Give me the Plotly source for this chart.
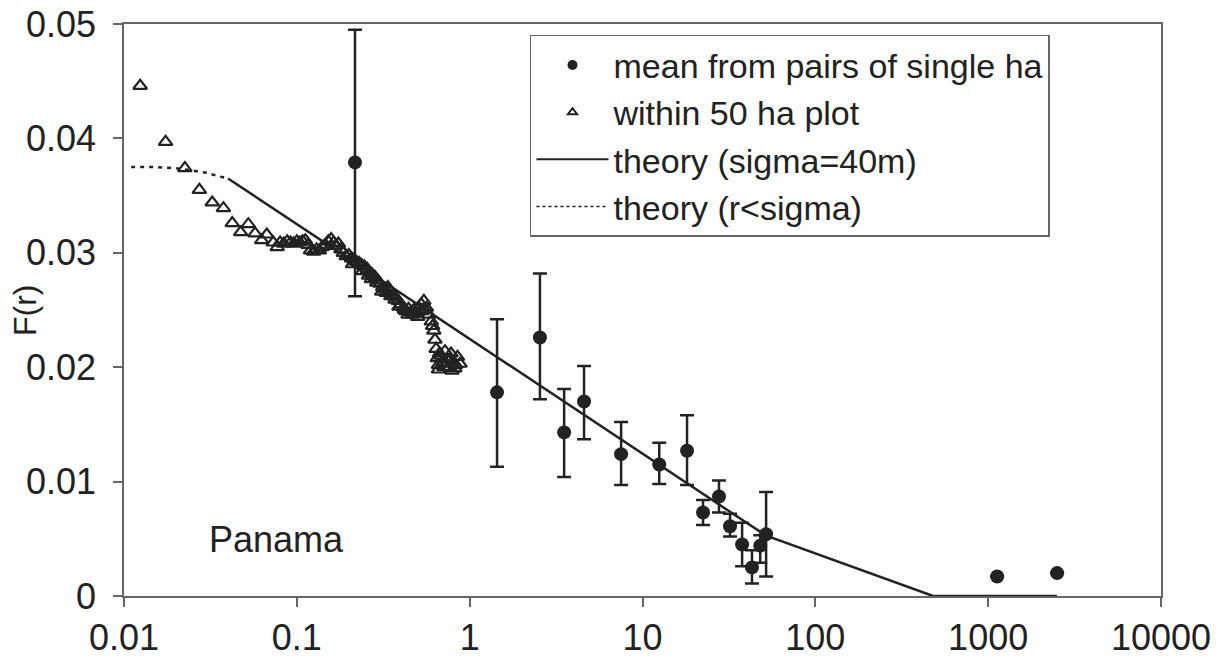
import math
import plotly.graph_objects as go

# mean from pairs of single ha (x in km, F(r)), with error bar bounds
mean_x = [0.217, 1.44, 2.55, 3.52, 4.59, 7.52, 12.5, 18.1, 22.4, 27.7, 32.1, 37.7, 43.0, 48.0, 51.9, 1127, 2506]
mean_y = [0.0379, 0.0178, 0.0226, 0.0143, 0.0170, 0.0124, 0.0115, 0.0127, 0.0073, 0.0087, 0.0061, 0.0045, 0.0025, 0.0044, 0.0054, 0.0017, 0.0020]
err_top = [0.0495, 0.0242, 0.0282, 0.0181, 0.0201, 0.0152, 0.0134, 0.0158, 0.0084, 0.0101, 0.0072, 0.0064, 0.0040, 0.0053, 0.0091, 0.0017, 0.0020]
err_bot = [0.0262, 0.0113, 0.0172, 0.0104, 0.0137, 0.0097, 0.0098, 0.0097, 0.0062, 0.0073, 0.0052, 0.0026, 0.0011, 0.0029, 0.0017, 0.0017, 0.0020]

# within 50 ha plot
tri_x = [0.0124, 0.0174, 0.0225, 0.0273, 0.0324, 0.0376, 0.0423, 0.0473, 0.0524, 0.0573,
         0.0626, 0.067, 0.0731, 0.077, 0.080, 0.084, 0.088, 0.092, 0.096, 0.100,
         0.104, 0.108, 0.112, 0.116, 0.120, 0.125, 0.130, 0.135, 0.140, 0.146,
         0.152, 0.158, 0.163, 0.168, 0.174, 0.180, 0.186, 0.193, 0.200, 0.207,
         0.214, 0.222, 0.230, 0.238, 0.246, 0.255, 0.264, 0.273, 0.283, 0.293,
         0.303, 0.314, 0.325, 0.336, 0.348, 0.360, 0.373, 0.386, 0.400, 0.414,
         0.428, 0.443, 0.458, 0.474, 0.490, 0.507, 0.525, 0.543, 0.562, 0.58,
         0.60, 0.62, 0.63, 0.64, 0.65, 0.66, 0.68, 0.70, 0.72, 0.74,
         0.76, 0.78, 0.80, 0.82, 0.85, 0.88,
         0.21, 0.24, 0.27, 0.31, 0.35, 0.39, 0.44, 0.50, 0.55, 0.66, 0.71, 0.77, 0.83,
         0.26, 0.29, 0.33, 0.37, 0.42, 0.47, 0.53, 0.61, 0.67, 0.73, 0.79]
tri_y = [0.0446, 0.0397, 0.0374, 0.0355, 0.0344, 0.0339, 0.0326, 0.0318, 0.0325, 0.0317,
         0.0311, 0.0316, 0.0309, 0.0305, 0.0309, 0.0308, 0.0310, 0.0309, 0.0308, 0.0310,
         0.0309, 0.0310, 0.0311, 0.0307, 0.0302, 0.0301, 0.0303, 0.0302, 0.0305, 0.0307,
         0.0310, 0.0312, 0.0309, 0.0306, 0.0308, 0.0303, 0.0300, 0.0297, 0.0298, 0.0295,
         0.0294, 0.0292, 0.0291, 0.0289, 0.0288, 0.0286, 0.0283, 0.0281, 0.0279, 0.0276,
         0.0273, 0.0270, 0.0268, 0.0270, 0.0266, 0.0263, 0.0261, 0.0258, 0.0255, 0.0252,
         0.0249, 0.0251, 0.0248, 0.0250, 0.0247, 0.0252, 0.0255, 0.0258, 0.0252, 0.0246,
         0.0240, 0.0232, 0.0224, 0.0216, 0.0208, 0.0202, 0.0210, 0.0204, 0.0214, 0.0207,
         0.0200, 0.0212, 0.0205, 0.0199, 0.0209, 0.0203,
         0.0290, 0.0284, 0.0277, 0.0266, 0.0262, 0.0253, 0.0246, 0.0244, 0.0250, 0.0198, 0.0200, 0.0207, 0.0202,
         0.0280, 0.0274, 0.0265, 0.0259, 0.0250, 0.0246, 0.0249, 0.0236, 0.0212, 0.0203, 0.0197]

# theory (sigma = 40 m)
theory_x = [0.04, 51.5, 480, 2500]
theory_y = [0.0365, 0.0053, 0.0, 0.0]

# theory (r < sigma)
small_x = [0.011, 0.015, 0.02, 0.025, 0.03, 0.035, 0.04]
small_y = [0.0375, 0.0375, 0.0374, 0.0372, 0.0370, 0.0367, 0.0365]

x_ticks = [0.01, 0.1, 1, 10, 100, 1000, 10000]
x_tick_text = ["0.01", "0.1", "1", "10", "100", "1000", "10000"]

FONT = "Liberation Sans, Arial, sans-serif"
INK = "#222222"
AX = "#666666"
FS = 36

W, H = 1220, 665
ML, MR, MT, MB = 124, 59, 24, 69

fig = go.Figure()

fig.add_trace(go.Scatter(
    x=theory_x, y=theory_y, mode="lines", showlegend=False,
    line=dict(color=INK, width=2.5)))
fig.add_trace(go.Scatter(
    x=small_x, y=small_y, mode="lines", showlegend=False,
    line=dict(color=INK, width=2.5, dash="4px,5px")))

fig.add_trace(go.Scatter(
    x=tri_x, y=tri_y, mode="markers", showlegend=False,
    marker=dict(symbol="triangle-up-open", size=12, color=INK, line=dict(width=2.2, color=INK))))

fig.add_trace(go.Scatter(
    x=mean_x, y=mean_y, mode="markers", showlegend=False,
    marker=dict(symbol="circle", size=14, color=INK),
    error_y=dict(type="data", symmetric=False,
                 array=[t - y for t, y in zip(err_top, mean_y)],
                 arrayminus=[y - b for b, y in zip(err_bot, mean_y)],
                 color=INK, thickness=2.5, width=7)))

# legend-only entries
fig.add_trace(go.Scatter(x=[None], y=[None], mode="markers", name="mean from pairs of single ha",
                         marker=dict(symbol="circle", size=10, color=INK)))
fig.add_trace(go.Scatter(x=[None], y=[None], mode="markers", name="within 50 ha plot",
                         marker=dict(symbol="triangle-up-open", size=8, color=INK, line=dict(width=2, color=INK))))
fig.add_trace(go.Scatter(x=[None], y=[None], mode="lines", name="theory (sigma=40m)",
                         line=dict(color=INK, width=2)))
fig.add_trace(go.Scatter(x=[None], y=[None], mode="lines", name="theory (r<sigma)",
                         line=dict(color=INK, width=1.5, dash="3px,3px")))

fig.add_annotation(x=math.log10(0.076), y=0.0049, xref="x", yref="y", text="Panama", showarrow=False,
                   font=dict(family=FONT, size=FS, color=INK))

fig.add_annotation(x=(25 - ML) / (W - ML - MR), y=0.5, xref="paper", yref="paper",
                   text="F(r)", showarrow=False, textangle=-90,
                   xanchor="center", yanchor="middle",
                   font=dict(family=FONT, size=32, color=INK))

fig.update_layout(
    width=W, height=H,
    margin=dict(l=ML, r=MR, t=MT, b=MB),
    paper_bgcolor="white", plot_bgcolor="white",
    font=dict(family=FONT, size=FS, color=INK),
    showlegend=True,
    legend=dict(x=0.3915, y=0.981, xanchor="left", yanchor="top",
                bgcolor="white", bordercolor=AX, borderwidth=1.5,
                font=dict(family=FONT, size=34, color=INK),
                itemsizing="trace", itemwidth=72, tracegroupgap=0),
    xaxis=dict(type="log", range=[-2, 4], tickvals=x_ticks, ticktext=x_tick_text,
               ticks="outside", ticklen=9, tickwidth=1.5, tickcolor=AX,
               showline=True, linecolor=AX, linewidth=1.5, mirror=True,
               showgrid=False, zeroline=False, automargin=False,
               ticklabeloverflow="allow",
               tickfont=dict(family=FONT, size=FS, color=INK)),
    yaxis=dict(range=[0, 0.05], dtick=0.01, tick0=0,
               ticks="outside", ticklen=9, tickwidth=1.5, tickcolor=AX,
               showline=True, linecolor=AX, linewidth=1.5, mirror=True,
               showgrid=False, zeroline=False, automargin=False,
               ticklabelstandoff=10, ticklabeloverflow="allow",
               tickfont=dict(family=FONT, size=FS, color=INK)),
)

# remove the browser's default 8px body margin so the figure fills the window exactly
fig.write_html("out.html", config={"displayModeBar": False},
               post_script="document.body.style.margin='0';document.body.style.overflow='hidden';")
